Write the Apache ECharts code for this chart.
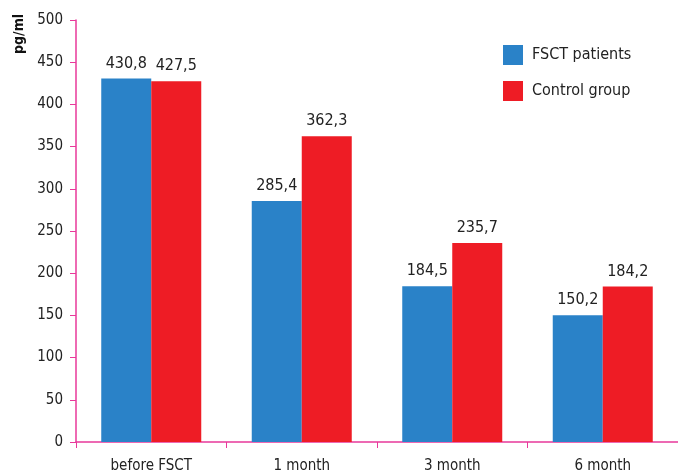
<!DOCTYPE html>
<html><head><meta charset="utf-8">
<script src="https://cdn.jsdelivr.net/npm/echarts@6/dist/echarts.min.js"></script>
<style>html,body{margin:0;padding:0;background:#fff}#c{width:678px;height:474px}</style>
</head><body><div id="c"></div>
<script>
var categories = ['before FSCT', '1 month', '3 month', '6 month'];
var fsctPatients = [430.8, 285.4, 184.5, 150.2];
var controlGroup = [427.5, 362.3, 235.7, 184.2];
var seriesNames = ['FSCT patients', 'Control group'];
var yTicks = {min: 0, max: 500, interval: 50};
var yName = 'pg/ml';

var FONT = "'Liberation Sans Narrow','DejaVu Sans Condensed','Roboto Condensed',sans-serif";
var AXIS = '#e8399a';
var chart = echarts.init(document.getElementById('c'), null, {renderer: 'canvas'});
function fmt(p){ return p.value.toFixed(1).replace('.', ','); }
chart.setOption({
  animation: false,
  textStyle: {fontFamily: FONT},
  grid: {left: 76, top: 20, width: 610, bottom: 32},
  legend: {
    orient: 'vertical', left: 503, top: 45, padding: 0, itemWidth: 20, itemHeight: 20, itemGap: 16,
    icon: 'rect',
    textStyle: {fontFamily: FONT, fontSize: 16, color: '#222', padding: [0,0,0,4]},
    data: seriesNames
  },
  graphic: [{
    type: 'text', rotation: Math.PI/2, x: 12, y: 54,
    style: {text: yName, fontFamily: FONT, fontWeight: 'bold', fontSize: 14, fill: '#111'}
  }],
  xAxis: {
    type: 'category', data: categories,
    axisLine: {lineStyle: {color: AXIS, width: 1.5}},
    axisTick: {show: true, alignWithLabel: false, length: 6, lineStyle: {color: AXIS}},
    axisLabel: {fontFamily: FONT, fontSize: 15, color: '#222', margin: 17}
  },
  yAxis: {
    type: 'value', min: yTicks.min, max: yTicks.max, interval: yTicks.interval,
    axisLine: {show: true, lineStyle: {color: AXIS, width: 1.5}},
    axisTick: {show: true, length: 6, lineStyle: {color: AXIS}},
    splitLine: {show: false},
    axisLabel: {fontFamily: FONT, fontSize: 15, color: '#222', margin: 13}
  },
  series: [
    {name: seriesNames[0], type: 'bar', data: fsctPatients, barWidth: 50, barGap: '0%',
     itemStyle: {color: '#2a82c8'},
     label: {show: true, position: 'top', distance: 7, formatter: fmt, fontFamily: FONT, fontSize: 16, color: '#222'}},
    {name: seriesNames[1], type: 'bar', data: controlGroup, barWidth: 50, barGap: '0%',
     itemStyle: {color: '#ee1c25'},
     label: {show: true, position: 'top', distance: 7, formatter: fmt, fontFamily: FONT, fontSize: 16, color: '#222'}}
  ]
});
</script></body></html>
